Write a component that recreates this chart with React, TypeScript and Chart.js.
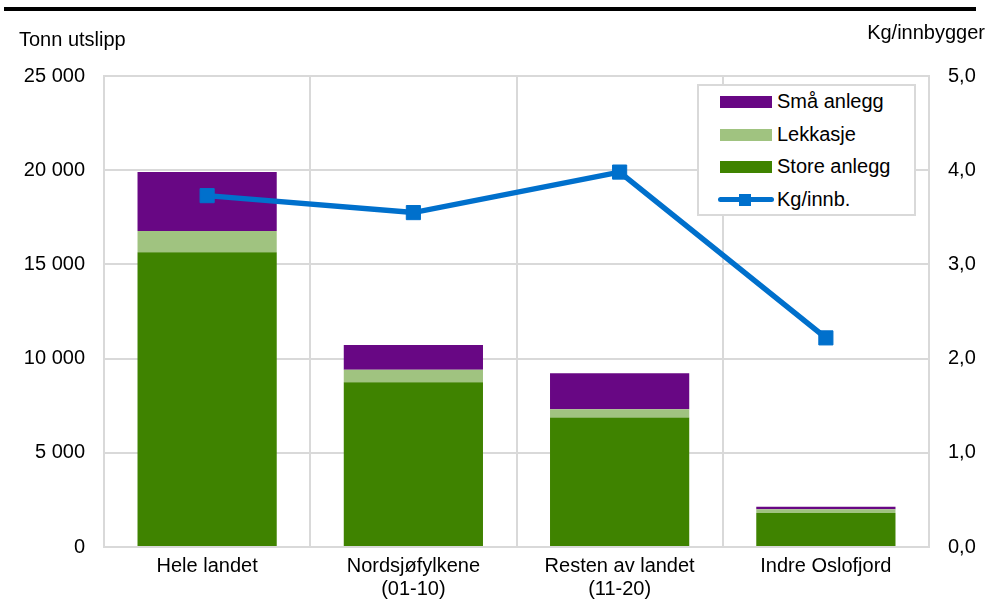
import React, { useEffect, useRef } from "react";
import { Chart, registerables } from "chart.js";

Chart.register(...registerables);

// Regions along the category axis
const regions: (string | string[])[] = [
  "Hele landet",
  ["Nordsjøfylkene", "(01-10)"],
  ["Resten av landet", "(11-20)"],
  "Indre Oslofjord",
];

// Emissions in tonnes, by source
const storeAnlegg = [15650, 8740, 6880, 1800];
const lekkasje = [1120, 670, 430, 210];
const smaaAnlegg = [3130, 1310, 1910, 120];

// Emissions per inhabitant (kg)
const kgPerInnbygger = [3.73, 3.55, 3.98, 2.22];

// Axis tick settings
const leftMax = 25000;
const leftStep = 5000;
const rightMax = 5;
const rightStep = 1;

const FONT = '"Liberation Sans", Arial, Helvetica, sans-serif';
const GRID = "#d9d9d9";
const C_SMAA = "#680784";
const C_LEKK = "#a0c380";
const C_STORE = "#3f8300";
const C_LINE = "#0070cc";

const fmtThousands = (v: number) =>
  String(Math.round(v)).replace(/\B(?=(\d{3})+(?!\d))/g, " ");
const fmtDecimal = (v: number) => v.toFixed(1).replace(".", ",");

export default function App() {
  const canvasRef = useRef<HTMLCanvasElement | null>(null);

  useEffect(() => {
    if (!canvasRef.current) return;
    const chart = new Chart(canvasRef.current, {
      type: "bar",
      data: {
        labels: regions,
        datasets: [
          {
            type: "line",
            label: "Kg/innb.",
            data: kgPerInnbygger,
            yAxisID: "y1",
            borderColor: C_LINE,
            backgroundColor: C_LINE,
            borderWidth: 5.5,
            pointStyle: "rect",
            pointRadius: 10,
            pointBorderWidth: 1,
            pointBackgroundColor: C_LINE,
            pointBorderColor: C_LINE,
            tension: 0,
            order: 0,
          },
          {
            label: "Store anlegg",
            data: storeAnlegg,
            backgroundColor: C_STORE,
            stack: "s",
            yAxisID: "y",
            order: 1,
          },
          {
            label: "Lekkasje",
            data: lekkasje,
            backgroundColor: C_LEKK,
            stack: "s",
            yAxisID: "y",
            order: 1,
          },
          {
            label: "Små anlegg",
            data: smaaAnlegg,
            backgroundColor: C_SMAA,
            stack: "s",
            yAxisID: "y",
            order: 1,
          },
        ] as any,
      },
      options: {
        responsive: false,
        animation: false,
        layout: { padding: { top: 76, left: 0, right: 0, bottom: 0 } },
        datasets: {
          bar: { categoryPercentage: 1, barPercentage: 0.675 },
        } as any,
        plugins: {
          legend: { display: false },
          tooltip: { enabled: false },
        },
        scales: {
          x: {
            stacked: true,
            grid: { color: GRID, lineWidth: 2, drawTicks: false, offset: true },
            border: { color: GRID, width: 2 },
            ticks: {
              color: "#000",
              padding: 8,
              font: { family: FONT, size: 20, lineHeight: 1.15 },
              maxRotation: 0,
              autoSkip: false,
            },
            afterFit: (s: any) => {
              s.height = 53;
            },
          },
          y: {
            stacked: true,
            position: "left",
            min: 0,
            max: leftMax,
            grid: { color: GRID, lineWidth: 2, drawTicks: false },
            border: { color: GRID, width: 2 },
            ticks: {
              stepSize: leftStep,
              color: "#000",
              padding: 19,
              font: { family: FONT, size: 20 },
              callback: (v: any) => fmtThousands(Number(v)),
            },
            afterFit: (s: any) => {
              s.width = 104;
            },
          },
          y1: {
            position: "right",
            min: 0,
            max: rightMax,
            grid: { display: false, drawTicks: false },
            border: { color: GRID, width: 2 },
            ticks: {
              stepSize: rightStep,
              color: "#000",
              padding: 19,
              font: { family: FONT, size: 20 },
              callback: (v: any) => fmtDecimal(Number(v)),
            },
            afterFit: (s: any) => {
              s.width = 59;
            },
          },
        },
      },
    });
    return () => chart.destroy();
  }, []);

  const text: React.CSSProperties = {
    position: "absolute",
    fontFamily: FONT,
    fontSize: 20,
    color: "#000",
    lineHeight: "23px",
    whiteSpace: "nowrap",
  };

  const legendRow = (swatch: React.ReactNode, label: string, top: number) => (
    <div
      style={{
        position: "absolute",
        left: 0,
        top,
        height: 23,
        display: "flex",
        alignItems: "center",
      }}
    >
      <div style={{ width: 58, marginLeft: 18, display: "flex", justifyContent: "center" }}>
        {swatch}
      </div>
      <span style={{ ...text, position: "static", marginLeft: 2 }}>{label}</span>
    </div>
  );

  const box = (color: string) => (
    <div style={{ width: 52, height: 12, background: color }} />
  );

  const lineSwatch = (
    <div style={{ position: "relative", width: 56, height: 14 }}>
      <div
        style={{
          position: "absolute",
          left: 0,
          top: 4.5,
          width: 56,
          height: 5,
          background: C_LINE,
          borderRadius: 3,
        }}
      />
      <div
        style={{
          position: "absolute",
          left: 21,
          top: 1,
          width: 12,
          height: 12,
          background: C_LINE,
        }}
      />
    </div>
  );

  return (
    <div
      style={{
        position: "absolute",
        left: 0,
        top: 0,
        width: 988,
        height: 600,
        background: "#fff",
        overflow: "hidden",
      }}
    >
      <canvas ref={canvasRef} width={988} height={600} style={{ position: "absolute", left: 0, top: 0 }} />
      <div
        style={{
          position: "absolute",
          left: 4,
          top: 7,
          width: 972,
          height: 4,
          background: "#000",
        }}
      />
      <div style={{ ...text, left: 19, top: 28 }}>Tonn utslipp</div>
      <div style={{ ...text, right: 3, top: 21 }}>Kg/innbygger</div>
      <div
        style={{
          position: "absolute",
          left: 697,
          top: 84,
          width: 215,
          height: 128,
          border: `2px solid ${GRID}`,
          background: "#fff",
        }}
      >
        {legendRow(box(C_SMAA), "Små anlegg", 4)}
        {legendRow(box(C_LEKK), "Lekkasje", 37)}
        {legendRow(box(C_STORE), "Store anlegg", 69)}
        {legendRow(lineSwatch, "Kg/innb.", 102)}
      </div>
    </div>
  );
}
